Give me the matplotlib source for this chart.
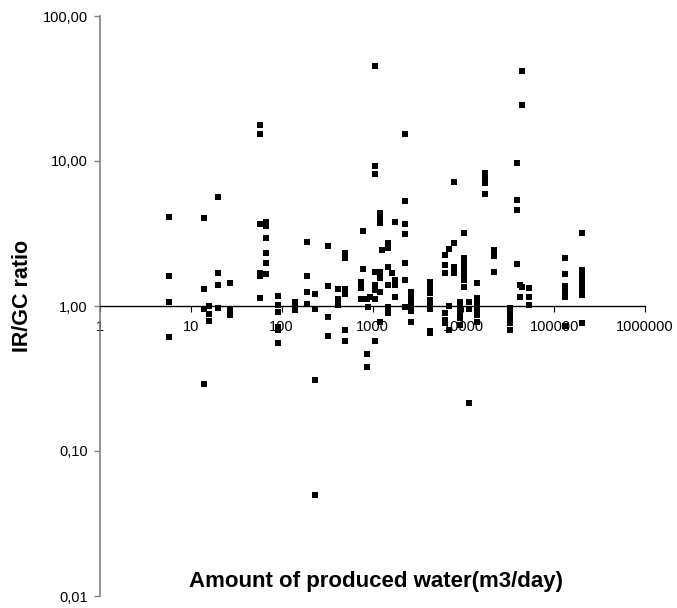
import numpy as np
import matplotlib
matplotlib.use("Agg")
import matplotlib.pyplot as plt

plt.rcParams['font.family'] = ['Liberation Sans', 'DejaVu Sans']

# produced water (m3/day) for each well group, and the IR/GC ratios measured there
water = [5.7, 14, 16, 20, 27, 58, 67, 90, 139, 188, 235, 326, 420, 500, 750, 790,
         870, 900, 940, 1065, 1200, 1260, 1500, 1650, 1750, 2300, 2630, 4250, 6350,
         7000, 7950, 9300, 10250, 11600, 14200, 17400, 21800, 32600, 38900, 42000,
         44200, 52600, 130000, 205000]
ratio = [
    [4.1, 1.62, 1.07, 0.61],
    [4.05, 1.31, 0.95, 0.29],
    [1.0, 0.88, 0.79],
    [5.65, 1.69, 1.39, 0.97],
    [1.45, 0.94, 0.86],
    [17.7, 15.4, 3.7, 1.69, 1.61, 1.13],
    [3.8, 3.56, 2.94, 2.32, 1.98, 1.66],
    [1.17, 1.01, 0.91, 0.72, 0.68, 0.555],
    [1.06, 0.99, 0.94],
    [2.78, 1.62, 1.24, 1.03],
    [1.21, 0.95, 0.31, 0.05],
    [2.59, 1.37, 0.84, 0.62],
    [1.32, 1.12, 1.02],
    [2.32, 2.14, 1.31, 1.21, 0.68, 0.57],
    [1.46, 1.33, 1.12],
    [3.3, 1.8],
    [1.12, 0.47, 0.38],
    [0.98],
    [1.15],
    [45, 9.3, 8.1, 1.72, 1.40, 1.29, 1.12, 0.57],
    [4.4, 4.05, 3.73, 1.72, 1.56, 1.25, 0.78],
    [2.43],
    [2.72, 2.51, 1.86, 1.40, 0.98, 0.895],
    [1.69],
    [3.8, 1.51, 1.40, 1.15],
    [15.4, 5.3, 3.68, 3.14, 1.98, 1.51, 0.98],
    [1.25, 1.15, 1.07, 1.0, 0.92, 0.78],
    [1.46, 1.33, 1.22, 1.1, 1.0, 0.95, 0.67, 0.65],
    [2.25, 1.92, 1.69, 0.89, 0.8, 0.76],
    [2.47, 1.0, 0.68],
    [7.2, 2.72, 1.86, 1.69],
    [1.07, 0.98, 0.9, 0.82, 0.74],
    [3.2, 2.14, 1.95, 1.78, 1.6, 1.5, 1.35],
    [1.07, 0.96, 0.215],
    [1.44, 1.13, 1.03, 0.95, 0.87, 0.78],
    [8.3, 7.6, 7.0, 5.9],
    [2.45, 2.2, 1.72],
    [0.97, 0.89, 0.82, 0.76, 0.68],
    [9.7, 5.4, 4.6, 1.95],
    [1.4, 1.15],
    [42, 24.3, 1.35],
    [1.33, 1.15, 1.02],
    [2.14, 1.66, 1.37, 1.25, 1.16, 0.73],
    [3.2, 1.77, 1.62, 1.5, 1.4, 1.3, 1.2, 0.76],
]

x_ticks = [1, 10, 100, 1000, 10000, 100000, 1000000]
x_labels = ["1", "10", "100", "1000", "10000", "100000", "1000000"]
y_ticks = [0.01, 0.1, 1, 10, 100]
y_labels = ["0,01", "0,10", "1,00", "10,00", "100,00"]

# flatten the groups
xs = np.concatenate([[w] * len(r) for w, r in zip(water, ratio)])
ys = np.concatenate(ratio)

fig = plt.figure(figsize=(6.77, 6.08), dpi=100)
ax = fig.add_axes([100 / 677, 12 / 608, 545 / 677, 580 / 608])

ax.scatter(xs, ys, marker='s', s=24, color='black', linewidths=0, clip_on=False, zorder=3)

ax.set_xscale('log')
ax.set_yscale('log')
ax.set_xlim(1, 1e6)
ax.set_ylim(0.01, 100)

ax.spines['top'].set_visible(False)
ax.spines['right'].set_visible(False)
ax.spines['bottom'].set_position(('data', 1))
ax.spines['bottom'].set_color('black')
ax.spines['bottom'].set_linewidth(1.0)
ax.spines['left'].set_color('#808080')
ax.spines['left'].set_linewidth(1.2)

ax.set_xticks(x_ticks)
ax.set_xticklabels(x_labels)
ax.set_yticks(y_ticks)
ax.set_yticklabels(y_labels)
ax.minorticks_off()

ax.tick_params(axis='x', direction='out', length=4, width=0.8, color='black',
               labelsize=10.5, pad=6)
ax.tick_params(axis='y', direction='out', length=4, width=1.0, color='#808080',
               labelsize=10.5, pad=5)

fig.text(23 / 677, 1 - 296 / 608, "IR/GC ratio", rotation=90, fontsize=15.5,
         fontweight='bold', ha='center', va='center')
fig.text(376 / 677, 1 - 582 / 608, "Amount of produced water(m3/day)", fontsize=16,
         fontweight='bold', ha='center', va='center')

fig.savefig("out.png", dpi=100)
